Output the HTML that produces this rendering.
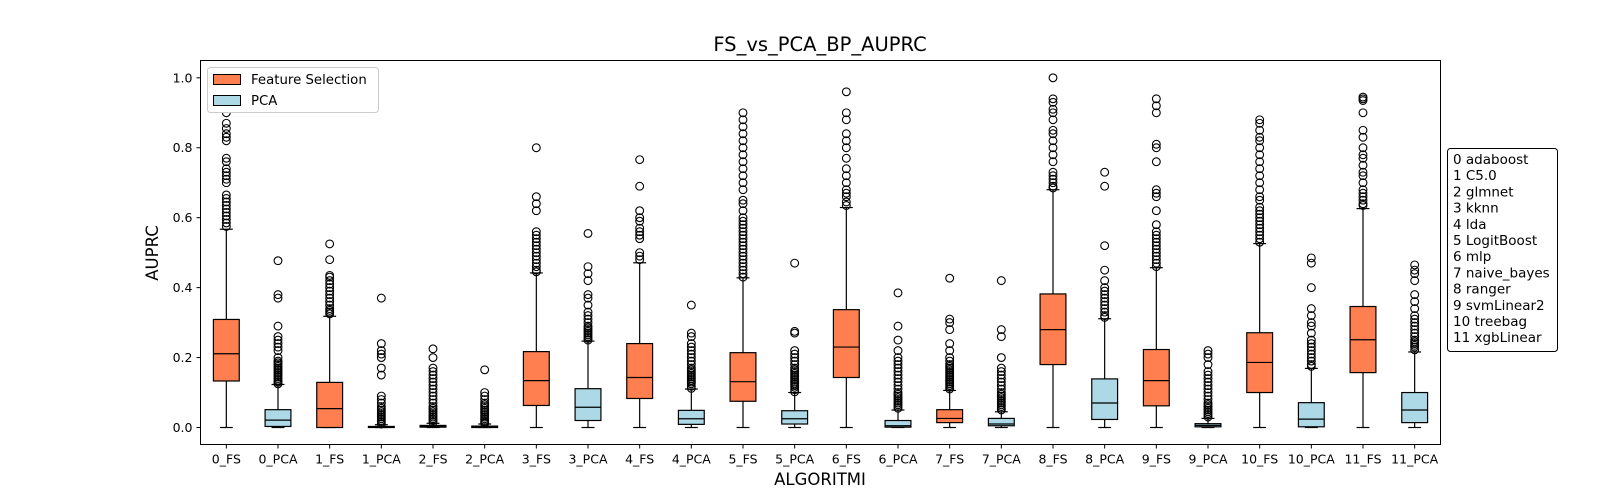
<!DOCTYPE html>
<html><head><meta charset="utf-8"><style>
html,body{margin:0;padding:0;background:#fff;}
svg{display:block;font-family:"DejaVu Sans","Liberation Sans",sans-serif;}
</style></head><body>
<svg id="chart" width="1600" height="500" viewBox="0 0 1600 500" xmlns="http://www.w3.org/2000/svg">
<rect x="0" y="0" width="1600" height="500" fill="#fff"/>
<text x="820" y="51" font-size="19.5" text-anchor="middle">FS_vs_PCA_BP_AUPRC</text>
<g id="marks"></g>
<rect x="200.5" y="60.5" width="1240" height="384" fill="none" stroke="#000" stroke-width="1"/>
<g id="axes"></g>
<text x="0" y="0" font-size="16.5" text-anchor="middle" transform="translate(158,253) rotate(-90)">AUPRC</text>
<text x="820" y="485" font-size="16.5" text-anchor="middle">ALGORITMI</text>
<g>
<rect x="207.5" y="67.5" width="171" height="45" rx="3" fill="#fff" stroke="#ccc"/>
<rect x="213.5" y="74.5" width="27" height="10" fill="#ff7f50" stroke="#000"/>
<text x="251" y="84" font-size="13.3">Feature Selection</text>
<rect x="213.5" y="95.5" width="27" height="10" fill="#add8e6" stroke="#000"/>
<text x="251" y="105" font-size="13.3">PCA</text>
</g>
<g font-size="13.5">
<rect x="1447.5" y="148.5" width="110" height="203" rx="3" fill="#fff" stroke="#000"/>
<text x="1453" y="164">0 adaboost</text>
<text x="1453" y="180.2">1 C5.0</text>
<text x="1453" y="196.4">2 glmnet</text>
<text x="1453" y="212.6">3 kknn</text>
<text x="1453" y="228.8">4 lda</text>
<text x="1453" y="245">5 LogitBoost</text>
<text x="1453" y="261.2">6 mlp</text>
<text x="1453" y="277.4">7 naive_bayes</text>
<text x="1453" y="293.6">8 ranger</text>
<text x="1453" y="309.8">9 svmLinear2</text>
<text x="1453" y="326">10 treebag</text>
<text x="1453" y="342.2">11 xgbLinear</text>
</g>
</svg>
<script>
const categories=["0_FS","0_PCA","1_FS","1_PCA","2_FS","2_PCA","3_FS","3_PCA","4_FS","4_PCA","5_FS","5_PCA","6_FS","6_PCA","7_FS","7_PCA","8_FS","8_PCA","9_FS","9_PCA","10_FS","10_PCA","11_FS","11_PCA"];
const q1=[0.133,0.003,0.0,0.0,0.001,0.0,0.063,0.02,0.083,0.009,0.075,0.01,0.143,0.001,0.014,0.005,0.18,0.023,0.062,0.002,0.1,0.002,0.157,0.014];
const med=[0.211,0.021,0.054,0.001,0.003,0.001,0.134,0.058,0.143,0.025,0.131,0.025,0.23,0.005,0.026,0.01,0.28,0.07,0.134,0.006,0.186,0.024,0.251,0.05];
const q3=[0.309,0.051,0.129,0.003,0.006,0.004,0.217,0.111,0.24,0.049,0.214,0.048,0.337,0.02,0.051,0.026,0.382,0.139,0.223,0.011,0.271,0.071,0.346,0.1];
const whisLo=[0,0,0,0,0,0,0,0,0,0,0,0,0,0,0,0,0,0,0,0,0,0,0,0];
const whisHi=[0.567,0.123,0.318,0.008,0.012,0.01,0.442,0.247,0.471,0.11,0.428,0.1,0.629,0.05,0.106,0.045,0.68,0.311,0.457,0.026,0.526,0.169,0.626,0.216];
const fliers=[
[0.575,0.585,0.595,0.605,0.615,0.625,0.635,0.645,0.655,0.665,0.7,0.71,0.72,0.73,0.74,0.76,0.77,0.82,0.83,0.84,0.855,0.87,0.9],
[0.125,0.13,0.135,0.14,0.145,0.15,0.155,0.16,0.165,0.17,0.175,0.18,0.185,0.19,0.2,0.22,0.23,0.24,0.25,0.26,0.29,0.37,0.38,0.477],
[0.325,0.33,0.335,0.34,0.35,0.36,0.37,0.38,0.39,0.4,0.41,0.42,0.43,0.435,0.48,0.525],
[0.01,0.015,0.02,0.025,0.03,0.035,0.04,0.045,0.05,0.055,0.06,0.07,0.08,0.09,0.15,0.17,0.2,0.21,0.22,0.24,0.37],
[0.015,0.02,0.025,0.03,0.035,0.04,0.045,0.05,0.055,0.06,0.07,0.08,0.09,0.1,0.11,0.12,0.13,0.14,0.15,0.16,0.17,0.2,0.225],
[0.012,0.016,0.02,0.025,0.03,0.035,0.04,0.045,0.05,0.055,0.06,0.065,0.07,0.08,0.09,0.1,0.165],
[0.445,0.45,0.46,0.47,0.48,0.49,0.5,0.51,0.52,0.53,0.54,0.55,0.56,0.62,0.64,0.66,0.8],
[0.25,0.255,0.26,0.265,0.27,0.275,0.28,0.285,0.29,0.3,0.31,0.32,0.33,0.35,0.37,0.38,0.42,0.44,0.46,0.555],
[0.48,0.49,0.5,0.54,0.55,0.56,0.57,0.59,0.6,0.62,0.69,0.766],
[0.112,0.118,0.125,0.13,0.135,0.14,0.145,0.15,0.155,0.16,0.165,0.17,0.18,0.19,0.2,0.21,0.22,0.23,0.24,0.26,0.27,0.35],
[0.43,0.44,0.45,0.46,0.47,0.48,0.49,0.5,0.51,0.52,0.53,0.54,0.55,0.56,0.57,0.58,0.59,0.6,0.62,0.64,0.65,0.68,0.7,0.72,0.74,0.76,0.78,0.8,0.82,0.84,0.86,0.88,0.9],
[0.102,0.108,0.115,0.12,0.125,0.13,0.135,0.14,0.145,0.15,0.155,0.16,0.165,0.17,0.18,0.19,0.2,0.21,0.22,0.27,0.275,0.47],
[0.635,0.645,0.66,0.67,0.68,0.7,0.72,0.74,0.77,0.8,0.82,0.84,0.88,0.9,0.96],
[0.055,0.06,0.065,0.07,0.075,0.08,0.085,0.09,0.095,0.1,0.11,0.12,0.13,0.14,0.15,0.16,0.17,0.18,0.19,0.2,0.22,0.25,0.29,0.385],
[0.11,0.115,0.12,0.125,0.13,0.135,0.14,0.145,0.15,0.155,0.16,0.165,0.17,0.175,0.18,0.19,0.2,0.22,0.24,0.28,0.3,0.31,0.427],
[0.05,0.055,0.06,0.065,0.07,0.075,0.08,0.085,0.09,0.095,0.1,0.11,0.12,0.13,0.14,0.15,0.16,0.17,0.2,0.26,0.28,0.42],
[0.685,0.69,0.7,0.71,0.72,0.73,0.76,0.78,0.8,0.82,0.84,0.85,0.88,0.9,0.91,0.93,0.94,1.0],
[0.315,0.32,0.33,0.34,0.35,0.36,0.37,0.38,0.39,0.4,0.42,0.45,0.52,0.69,0.73],
[0.46,0.47,0.48,0.49,0.5,0.51,0.52,0.53,0.54,0.55,0.56,0.58,0.62,0.66,0.67,0.68,0.76,0.8,0.81,0.9,0.92,0.94],
[0.03,0.035,0.04,0.045,0.05,0.055,0.06,0.065,0.07,0.08,0.09,0.1,0.11,0.12,0.13,0.14,0.15,0.16,0.18,0.2,0.21,0.22],
[0.53,0.54,0.55,0.56,0.57,0.58,0.59,0.6,0.61,0.62,0.63,0.65,0.66,0.68,0.7,0.72,0.74,0.76,0.78,0.8,0.82,0.83,0.85,0.87,0.88],
[0.175,0.18,0.19,0.2,0.21,0.22,0.23,0.24,0.25,0.27,0.29,0.3,0.32,0.34,0.4,0.47,0.485],
[0.635,0.64,0.65,0.66,0.67,0.68,0.7,0.72,0.73,0.75,0.77,0.78,0.8,0.83,0.85,0.9,0.935,0.94,0.945],
[0.222,0.23,0.235,0.24,0.245,0.25,0.26,0.27,0.28,0.29,0.3,0.31,0.32,0.34,0.36,0.38,0.42,0.44,0.45,0.465]
];
const yTickLabels=["0.0","0.2","0.4","0.6","0.8","1.0"];
const yTickValues=[0,0.2,0.4,0.6,0.8,1.0];

const NS="http://www.w3.org/2000/svg";
const PL=200.5,PR=1440.5,PT=60.5,PB=444.5;
const yMin=-0.0486,yMax=1.0495;
function yScale(v){return PB-(v-yMin)/(yMax-yMin)*(PB-PT);}
function xScale(i){return PL+(i+0.5)*(PR-PL)/categories.length;}
const unit=(PR-PL)/categories.length;
function mk(tag,attrs,parent){const e=document.createElementNS(NS,tag);for(const k in attrs)e.setAttribute(k,attrs[k]);parent.appendChild(e);return e;}
const marks=document.getElementById('marks');
const axes=document.getElementById('axes');
categories.forEach((c,i)=>{
  const g=mk('g',{},marks);
  
  
  const cx=xScale(i),bw=unit*0.5,cap=bw/2;
  const col=c.endsWith('_FS')?'#ff7f50':'#add8e6';
  mk('line',{x1:cx,x2:cx,y1:yScale(q3[i]),y2:yScale(whisHi[i]),stroke:'#000','stroke-width':1.2},g);
  mk('line',{x1:cx,x2:cx,y1:yScale(q1[i]),y2:yScale(whisLo[i]),stroke:'#000','stroke-width':1.2},g);
  mk('line',{x1:cx-cap/2,x2:cx+cap/2,y1:yScale(whisHi[i]),y2:yScale(whisHi[i]),stroke:'#000','stroke-width':1.2},g);
  mk('line',{x1:cx-cap/2,x2:cx+cap/2,y1:yScale(whisLo[i]),y2:yScale(whisLo[i]),stroke:'#000','stroke-width':1.2},g);
  const yt=yScale(q3[i]),yb=yScale(q1[i]);
  mk('rect',{x:cx-bw/2,y:yt,width:bw,height:Math.max(yb-yt,1),fill:col,stroke:'#000','stroke-width':1.2},g);
  mk('line',{x1:cx-bw/2,x2:cx+bw/2,y1:yScale(med[i]),y2:yScale(med[i]),stroke:'#000','stroke-width':1.2},g);
  fliers[i].forEach(v=>{
    const f=mk('circle',{cx:cx,cy:yScale(v),r:3.9,fill:'none',stroke:'#000','stroke-width':1.1},g);
    
    
  });
  mk('line',{x1:cx,x2:cx,y1:PB,y2:PB+4,stroke:'#000'},axes);
  const lb=mk('text',{x:cx,y:PB+19,'font-size':12.5,'text-anchor':'middle'},axes);
  lb.textContent=c;
  
  
});
yTickValues.forEach((v,i)=>{
  const y=yScale(v);
  mk('line',{x1:PL-4,x2:PL,y1:y,y2:y,stroke:'#000'},axes);
  const lb=mk('text',{x:PL-8,y:y+4.5,'font-size':12.5,'text-anchor':'end'},axes);
  lb.textContent=yTickLabels[i];
  
  
});
</script>
</body></html>
